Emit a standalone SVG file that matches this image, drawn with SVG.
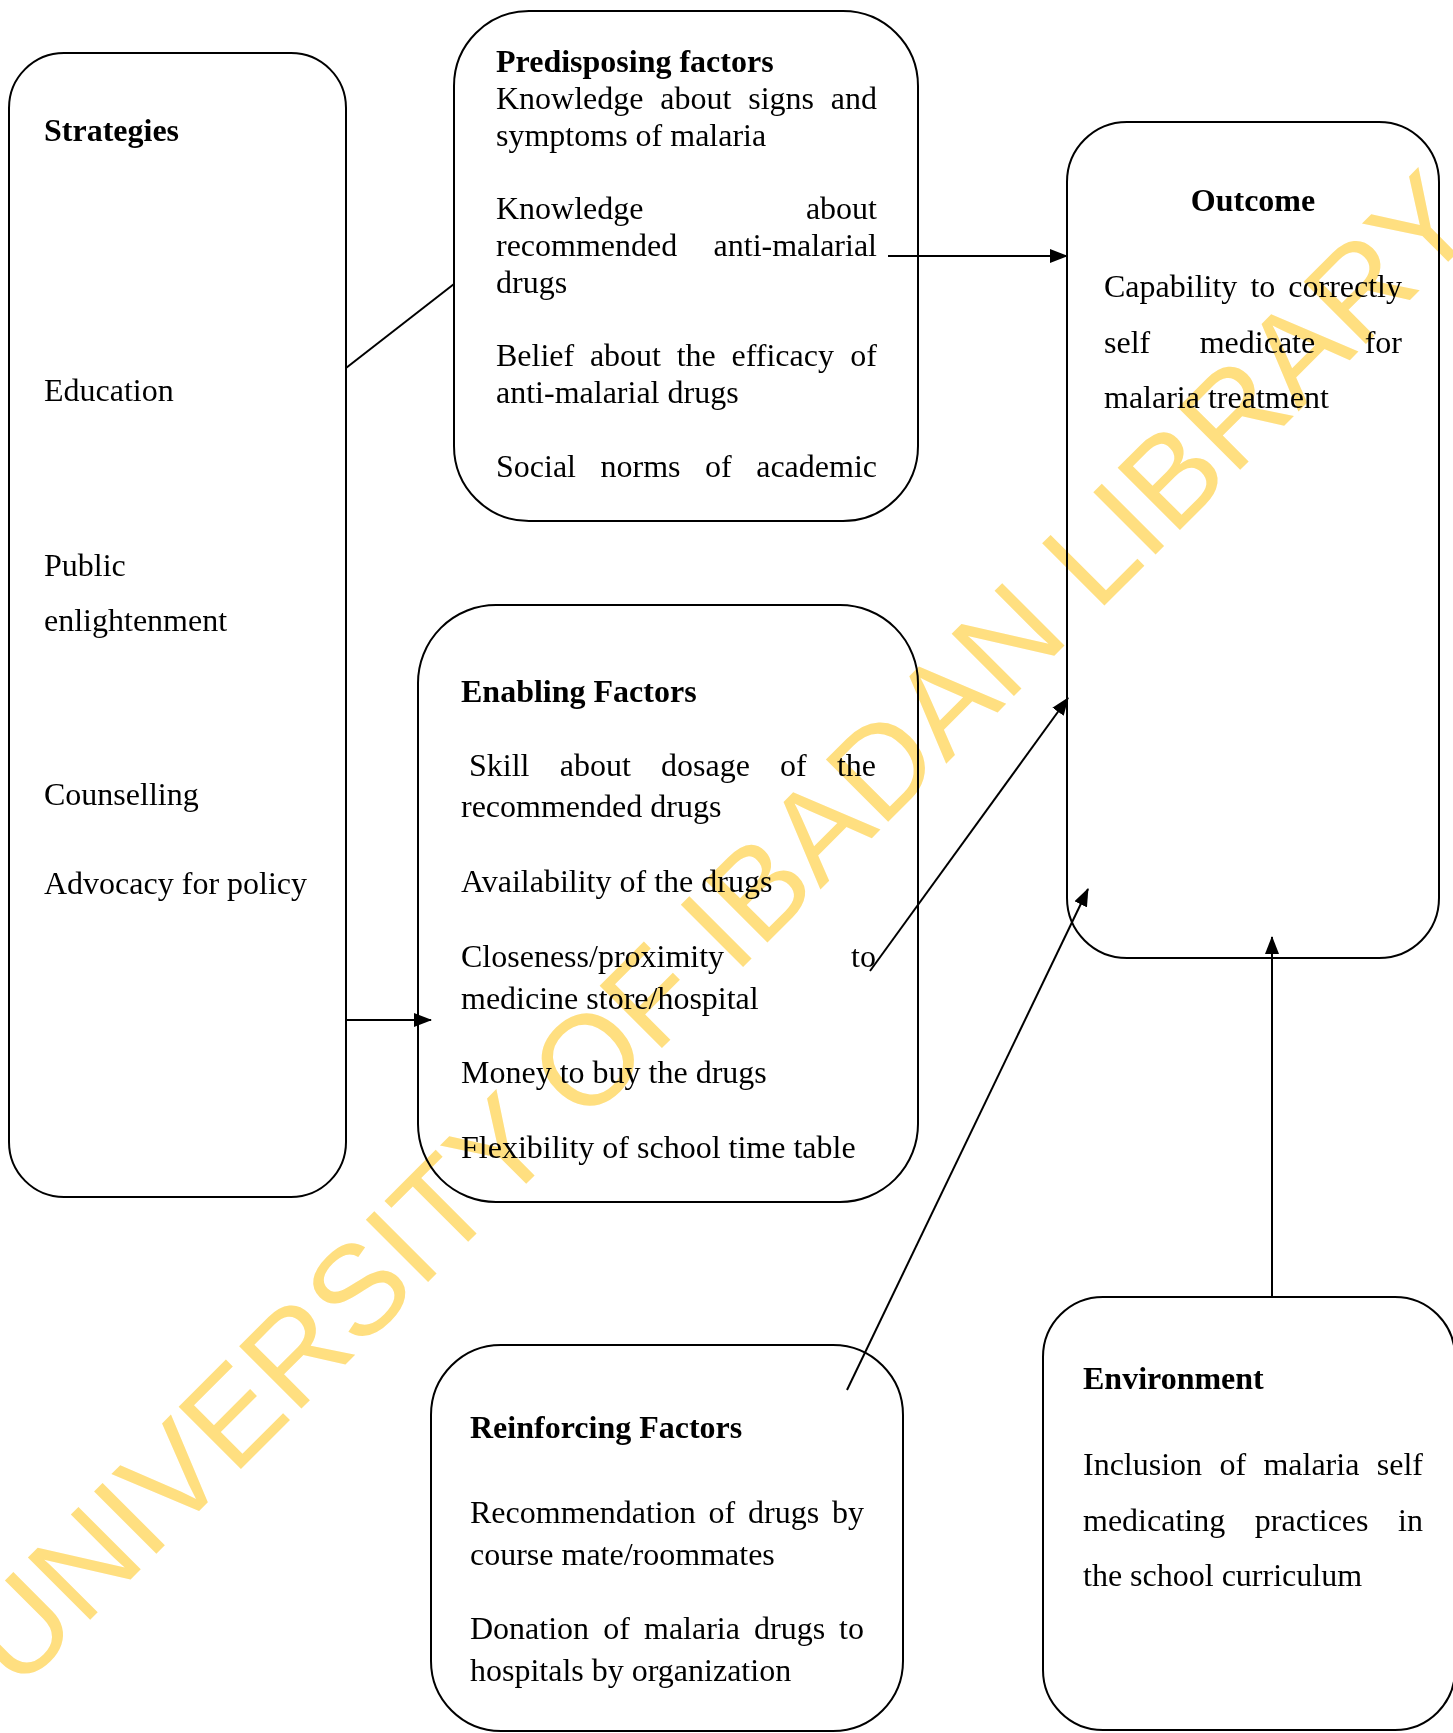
<svg xmlns="http://www.w3.org/2000/svg" width="1453" height="1733" viewBox="0 0 1453 1733">
<style>
.box{fill:#fff;stroke:#000;stroke-width:2}
.t{font-family:"Liberation Serif","Times New Roman",serif;font-size:32px;fill:#000}
.b{font-weight:bold}
.e{text-anchor:end}
.conn{stroke:#000;stroke-width:2;fill:none}
.wm{font-family:"Liberation Sans",Arial,sans-serif;font-size:128px;fill:#FFDF80;mix-blend-mode:multiply}
</style>
<defs>
<marker id="ah" markerUnits="userSpaceOnUse" markerWidth="18" markerHeight="14" viewBox="0 0 18 14" refX="17" refY="7" orient="auto">
<path d="M0,0 L18,7 L0,14 z" fill="#000"/>
</marker>
</defs>
<rect width="1453" height="1733" fill="#fff"/>

<g id="strategies">
<rect class="box" x="9" y="53" width="337" height="1144" rx="55" ry="55"/>
<text class="t b" x="44" y="141">Strategies</text>
<text class="t" x="44" y="401">Education</text>
<text class="t" x="44" y="576">Public</text>
<text class="t" x="44" y="631">enlightenment</text>
<text class="t" x="44" y="805">Counselling</text>
<text class="t" x="44" y="894">Advocacy for policy</text>
</g>

<g id="predisposing">
<rect class="box" x="454" y="11" width="464" height="510" rx="75" ry="75"/>
<text class="t b" x="496" y="72">Predisposing factors</text>
<text class="t" y="109"><tspan x="496">Knowledge</tspan><tspan x="660.3">about</tspan><tspan x="748.2">signs</tspan><tspan x="830.8">and</tspan></text>
<text class="t" x="496" y="146">symptoms of malaria</text>
<text class="t" x="496" y="219">Knowledge</text>
<text class="t e" x="877" y="219">about</text>
<text class="t" x="496" y="256">recommended</text>
<text class="t e" x="877" y="256">anti-malarial</text>
<text class="t" x="496" y="293">drugs</text>
<text class="t" y="366"><tspan x="496">Belief</tspan><tspan x="589.9">about</tspan><tspan x="676.7">the</tspan><tspan x="731.5">efficacy</tspan><tspan x="850.3">of</tspan></text>
<text class="t" x="496" y="403">anti-malarial drugs</text>
<text class="t" y="477"><tspan x="496">Social</tspan><tspan x="600.5">norms</tspan><tspan x="705">of</tspan><tspan x="756.2">academic</tspan></text>
</g>

<g id="enabling">
<rect class="box" x="418" y="605" width="500" height="597" rx="78" ry="78"/>
<text class="t b" x="461" y="702">Enabling Factors</text>
<text class="t" y="776"><tspan x="469">Skill</tspan><tspan x="559.7">about</tspan><tspan x="661">dosage</tspan><tspan x="780.1">of</tspan><tspan x="836.9">the</tspan></text>
<text class="t" x="461" y="817">recommended drugs</text>
<text class="t" x="461" y="892">Availability of the drugs</text>
<text class="t" x="461" y="967">Closeness/proximity</text>
<text class="t e" x="876" y="967">to</text>
<text class="t" x="461" y="1009">medicine store/hospital</text>
<text class="t" x="461" y="1083">Money to buy the drugs</text>
<text class="t" x="461" y="1158">Flexibility of school time table</text>
</g>

<g id="outcome">
<rect class="box" x="1067" y="122" width="372" height="836" rx="60" ry="60"/>
<text class="t b" x="1253" y="211" text-anchor="middle">Outcome</text>
<text class="t" y="297"><tspan x="1104">Capability</tspan><tspan x="1250.4">to</tspan><tspan x="1288.3">correctly</tspan></text>
<text class="t" y="353"><tspan x="1104">self</tspan><tspan x="1199.7">medicate</tspan><tspan x="1364.7">for</tspan></text>
<text class="t" x="1104" y="408">malaria treatment</text>
</g>

<g id="reinforcing">
<rect class="box" x="431" y="1345" width="472" height="386" rx="70" ry="70"/>
<text class="t b" x="470" y="1438">Reinforcing Factors</text>
<text class="t" y="1523"><tspan x="470">Recommendation</tspan><tspan x="708.6">of</tspan><tspan x="748.1">drugs</tspan><tspan x="832">by</tspan></text>
<text class="t" x="470" y="1565">course mate/roommates</text>
<text class="t" y="1639"><tspan x="470">Donation</tspan><tspan x="603.2">of</tspan><tspan x="644">malaria</tspan><tspan x="754">drugs</tspan><tspan x="839.1">to</tspan></text>
<text class="t" x="470" y="1681">hospitals by organization</text>
</g>

<g id="environment">
<rect class="box" x="1043" y="1297" width="412" height="433" rx="60" ry="60"/>
<text class="t b" x="1083" y="1389">Environment</text>
<text class="t" y="1475"><tspan x="1083">Inclusion</tspan><tspan x="1219.4">of</tspan><tspan x="1263.4">malaria</tspan><tspan x="1376.8">self</tspan></text>
<text class="t" y="1531"><tspan x="1083">medicating</tspan><tspan x="1254.8">practices</tspan><tspan x="1398.1">in</tspan></text>
<text class="t" x="1083" y="1586">the school curriculum</text>
</g>

<g id="connectors">
<line class="conn" x1="346" y1="368" x2="454" y2="284"/>
<line class="conn" x1="888" y1="256" x2="1067" y2="256" marker-end="url(#ah)"/>
<line class="conn" x1="346" y1="1020" x2="431" y2="1020" marker-end="url(#ah)"/>
<line class="conn" x1="870" y1="971" x2="1068" y2="698" marker-end="url(#ah)"/>
<line class="conn" x1="847" y1="1390" x2="1088" y2="889" marker-end="url(#ah)"/>
<line class="conn" x1="1272" y1="1297" x2="1272" y2="937" marker-end="url(#ah)"/>
</g>

<text class="wm" x="750" y="960" text-anchor="middle" transform="rotate(-45 750 960)">UNIVERSITY OF IBADAN LIBRARY</text>
</svg>
